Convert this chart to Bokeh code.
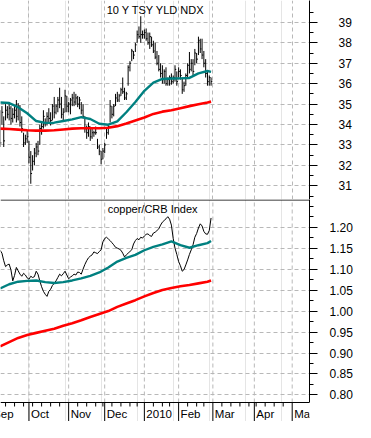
from bokeh.plotting import figure
from bokeh.layouts import column
from bokeh.models import (FixedTicker, Grid, Range1d, Label, Span,
                          ColumnDataSource, NumeralTickFormatter)
from bokeh.core.properties import value
from bokeh.embed import file_html
from bokeh.resources import INLINE

# ---------------- data (x = trading-day index, 0 = 1 Oct 2009) ----------------
month_labels = ["Sep", "Oct", "Nov", "Dec", "2010", "Feb", "Mar", "Apr", "Ma"]
month_start = [-21, 0, 22, 42, 64, 83, 102, 125, 146]
week_start = [-17, -13, -8, -3, 2, 7, 12, 17, 27, 32, 37, 41, 46, 51, 56, 60,
              69, 74, 78, 88, 93, 97, 107, 112, 117, 122, 126, 131, 136, 141]

days = list(range(-16, 102))

tsy_high = [34.7, 34.9, 34.4, 35.0, 34.9, 35.05, 34.9, 34.8, 34.9, 35.2, 35.05, 34.95, 34.4, 33.6, 33.5, 33.7,
            33.2, 32.7, 32.5, 32.85, 33.1, 33.2, 34.0, 34.1, 34.7, 34.3,
            34.6, 34.8, 34.6, 35.0, 35.35, 35.0, 35.35, 35.8, 35.35, 34.8,
            35.7, 35.4, 35.1, 35.3, 35.5, 35.6, 35.5, 35.4, 35.35, 35.1,
            35.0, 34.4, 33.95, 34.1, 33.9, 33.8, 33.7, 33.9, 33.3, 33.0,
            32.7, 32.85, 33.1, 33.8, 34.0, 35.2, 34.9, 35.0, 35.5, 35.6,
            35.5, 35.8, 36.3, 35.8, 35.6, 36.9, 37.1, 37.7, 37.6, 38.0,
            38.6, 38.8, 39.3, 38.6, 38.65, 38.7, 38.5, 38.5, 38.3, 38.1,
            38.0, 37.6, 37.4, 37.0, 36.9, 36.7, 36.8, 36.3, 36.4, 36.5,
            36.4, 36.9, 36.6, 36.8, 36.7, 36.3, 36.1, 36.5, 37.0, 37.55,
            37.2, 37.2, 37.7, 37.5, 38.3, 38.2, 38.2, 37.6, 37.2, 36.6,
            36.4, 36.3]
tsy_low = [32.9, 34.0, 32.9, 34.2, 34.3, 34.2, 34.0, 34.1, 34.3, 34.1, 34.2, 33.9, 33.6, 32.9, 33.0, 33.1,
           32.1, 31.1, 31.75, 32.0, 32.4, 32.5, 33.0, 33.5, 33.8, 33.9,
           33.95, 34.1, 33.95, 34.2, 34.3, 34.5, 34.6, 34.8, 34.3, 34.2,
           34.6, 34.6, 34.6, 34.5, 34.9, 34.9, 34.95, 34.85, 34.75, 34.5,
           34.3, 33.6, 33.3, 33.4, 33.2, 33.3, 33.4, 33.5, 32.8, 32.5,
           32.05, 32.3, 32.6, 33.3, 33.5, 34.1, 34.3, 34.4, 34.9, 35.1,
           35.1, 35.4, 35.5, 35.2, 35.2, 35.9, 36.6, 37.1, 37.2, 37.55,
           38.0, 38.2, 38.0, 38.2, 38.2, 38.1, 37.9, 37.7, 37.8, 37.5,
           37.2, 36.9, 36.6, 36.3, 36.0, 36.0, 35.9, 35.9, 35.9, 35.95,
           36.0, 36.1, 35.9, 36.3, 36.2, 35.5, 35.6, 35.9, 36.3, 36.5,
           36.6, 36.4, 36.9, 37.0, 37.4, 37.5, 37.2, 36.8, 36.3, 35.9,
           35.9, 35.9]
tsy_close = [33.1, 34.6, 33.2, 34.7, 34.5, 34.8, 34.3, 34.5, 34.7, 34.4, 34.9, 34.1, 33.8, 33.1, 33.3, 33.4,
             32.4, 31.6, 32.2, 32.6, 32.9, 32.7, 33.8, 33.9, 34.4, 34.1,
             34.4, 34.3, 34.2, 34.9, 34.6, 34.9, 35.2, 35.0, 34.5, 34.6,
             35.4, 34.9, 35.0, 35.2, 35.3, 35.1, 35.3, 35.0, 35.2, 34.7,
             34.4, 33.8, 33.6, 33.9, 33.4, 33.6, 33.6, 33.6, 32.9, 32.7,
             32.3, 32.7, 33.0, 33.6, 33.9, 34.9, 34.5, 34.9, 35.3, 35.2,
             35.4, 35.7, 35.6, 35.3, 35.5, 36.8, 37.0, 37.6, 37.4, 37.9,
             38.4, 38.3, 38.4, 38.4, 38.5, 38.2, 38.0, 38.3, 37.9, 37.6,
             37.3, 37.0, 36.7, 36.5, 36.2, 36.6, 36.0, 36.2, 36.3, 36.1,
             36.3, 36.7, 36.1, 36.6, 36.4, 35.7, 35.9, 36.4, 36.9, 36.7,
             37.0, 36.6, 37.5, 37.2, 38.1, 37.7, 37.4, 37.0, 36.5, 36.1,
             36.3, 36.1]

copper_crb = [1.145, 1.138, 1.120, 1.106, 1.110, 1.112, 1.098, 1.072, 1.085, 1.104, 1.096, 1.088, 1.083, 1.090, 1.086, 1.079,
              1.076, 1.083, 1.080, 1.082, 1.095, 1.088, 1.072, 1.058, 1.047, 1.040,
              1.035, 1.047, 1.052, 1.061, 1.066, 1.072, 1.080, 1.088, 1.084, 1.089,
              1.095, 1.086, 1.077, 1.081, 1.084, 1.088, 1.086, 1.093, 1.092, 1.088,
              1.100, 1.111, 1.120, 1.127, 1.131, 1.134, 1.141, 1.139, 1.137, 1.142,
              1.146, 1.165, 1.173, 1.176, 1.172, 1.168, 1.163, 1.158, 1.152, 1.150,
              1.148, 1.145, 1.138, 1.129, 1.134, 1.138, 1.142, 1.146, 1.160, 1.168,
              1.173, 1.170, 1.176, 1.174, 1.179, 1.183, 1.184, 1.180, 1.178, 1.186,
              1.188, 1.192, 1.196, 1.205, 1.212, 1.216, 1.220, 1.225, 1.219, 1.205,
              1.173, 1.150, 1.135, 1.118, 1.108, 1.095, 1.099, 1.110, 1.122, 1.135,
              1.146, 1.158, 1.176, 1.185, 1.198, 1.208, 1.203, 1.190, 1.184, 1.183,
              1.192, 1.222]

ma_days = [-16, -11, -6, -1, 4, 9, 14, 19, 24, 29, 34, 39, 44, 49, 54, 59, 64, 69, 74, 79, 84, 89, 94, 99, 101]
tsy_ma50 = [35.08, 35.05, 34.85, 34.55, 34.17, 34.08, 34.09, 34.17, 34.25, 34.36, 34.27, 34.04, 33.99,
            34.15, 34.6, 35.1, 35.65, 36.05, 36.23, 36.25, 36.26, 36.28, 36.5, 36.62, 36.58]
tsy_ma200 = [33.8, 33.78, 33.75, 33.72, 33.7, 33.7, 33.72, 33.76, 33.8, 33.82, 33.82, 33.82, 33.84,
             33.92, 34.05, 34.2, 34.34, 34.52, 34.63, 34.7, 34.8, 34.9, 34.99, 35.08, 35.12]
cu_ma50 = [1.054, 1.064, 1.070, 1.072, 1.073, 1.069, 1.067, 1.069, 1.073, 1.078, 1.084, 1.092, 1.104,
           1.118, 1.127, 1.134, 1.145, 1.153, 1.159, 1.166, 1.157, 1.151, 1.157, 1.162, 1.167]
cu_ma200 = [0.916, 0.926, 0.936, 0.943, 0.948, 0.953, 0.958, 0.965, 0.971, 0.978, 0.986, 0.993, 1.000,
            1.010, 1.018, 1.026, 1.035, 1.043, 1.050, 1.055, 1.059, 1.062, 1.066, 1.070, 1.073]

tsy_ticks = [31, 32, 33, 34, 35, 36, 37, 38, 39]
cu_ticks = [0.80, 0.85, 0.90, 0.95, 1.00, 1.05, 1.10, 1.15, 1.20]

# ---------------- styling / layout ----------------
FONT = "Liberation Sans"
FW = 309
H1, H2 = 199, 203          # plotting heights of the two panels
AX_H = 19                  # date-axis strip below the lower panel
X_RANGE = (-15.8, 155.6)
Y1 = (30.33, 40.07)
Y2 = (0.782, 1.266)
TEAL = "#008080"
RED = "#ff0000"
GRID = "#b8b8b8"

xr = Range1d(*X_RANGE)
u2 = (Y2[1] - Y2[0]) / H2          # data units per pixel in lower panel
Y2_LOW = Y2[0] - AX_H * u2


def style_right_axis(ax, ticks, minor, standoff, fmt):
    ax.ticker = FixedTicker(ticks=ticks, minor_ticks=minor)
    ax.formatter = NumeralTickFormatter(format=fmt)
    ax.axis_line_color = "black"
    ax.major_tick_in = 0
    ax.major_tick_out = 8
    ax.minor_tick_in = 0
    ax.minor_tick_out = 4
    ax.major_tick_line_color = "black"
    ax.minor_tick_line_color = "black"
    ax.major_label_standoff = standoff
    ax.major_label_text_font = FONT
    ax.major_label_text_font_size = "12px"
    ax.major_label_text_color = "black"


# ---- top panel ----
p1 = figure(frame_width=FW, frame_height=H1, x_range=xr, y_range=Range1d(*Y1),
            x_axis_location=None, y_axis_location="right",
            output_backend="svg", toolbar_location=None,
            min_border_left=0, min_border_top=0, min_border_bottom=0, min_border_right=0)
p1.outline_line_color = None
style_right_axis(p1.yaxis[0], tsy_ticks, [t - 0.5 for t in tsy_ticks] + [39.5], 21, "0")
p1.ygrid.grid_line_color = GRID
p1.ygrid.grid_line_dash = "4 3"
p1.add_layout(Grid(dimension=0, ticker=FixedTicker(ticks=month_start),
                   grid_line_color=GRID, grid_line_dash="4 3"))

bars = ColumnDataSource(dict(x=days, hi=tsy_high, lo=tsy_low, c=tsy_close,
                             xc=[d + 0.7 for d in days]))
p1.segment("x", "lo", "x", "hi", source=bars, line_color="black", line_width=1)
p1.segment("x", "c", "xc", "c", source=bars, line_color="black", line_width=1)
p1.line(ma_days, tsy_ma200, line_color=RED, line_width=2.6)
p1.line(ma_days, tsy_ma50, line_color=TEAL, line_width=2.4)

p1.add_layout(Label(x=month_start[3], x_offset=2,
                    y=Y1[1] - 9.6 / H1 * (Y1[1] - Y1[0]),
                    text="10 Y TSY YLD NDX", text_font=FONT, text_font_size="11px",
                    text_baseline="middle", text_color="black"))

# ---- bottom panel (the date strip lives inside its frame) ----
p2 = figure(frame_width=FW, frame_height=H2 + AX_H, x_range=xr, y_range=Range1d(Y2_LOW, Y2[1]),
            x_axis_location=None, y_axis_location="right",
            output_backend="svg", toolbar_location=None,
            min_border_left=0, min_border_top=0, min_border_bottom=0, min_border_right=0)
p2.outline_line_color = None
ya2 = p2.yaxis[0]
style_right_axis(ya2, cu_ticks, [t + 0.025 for t in cu_ticks] + [1.25], 12, "0.00")
ya2.bounds = (Y2[0], Y2[1])
p2.ygrid.grid_line_color = GRID
p2.ygrid.grid_line_dash = "4 3"

# vertical month grid, only over the plotting area
n_m = len(month_start)
p2.segment(x0=month_start, y0=[Y2[0]] * n_m, x1=month_start, y1=[Y2[1]] * n_m,
           line_color=GRID, line_dash="4 3", line_width=1)

p2.line(days, copper_crb, line_color="black", line_width=1)
p2.line(ma_days, cu_ma200, line_color=RED, line_width=2.6)
p2.line(ma_days, cu_ma50, line_color=TEAL, line_width=2.4)

# separator line between panels and the date axis line
p2.add_layout(Span(location=Y2[1] - 0.5 * u2, dimension="width", line_color="black", line_width=1))
p2.add_layout(Span(location=Y2[0], dimension="width", line_color="black", line_width=1))

# date axis ticks: long at month starts, short at week starts
p2.segment(x0=month_start, y0=[Y2[0]] * n_m, x1=month_start, y1=[Y2_LOW] * n_m,
           line_color="black", line_width=1)
n_w = len(week_start)
p2.segment(x0=week_start, y0=[Y2[0]] * n_w, x1=week_start, y1=[Y2[0] - 4 * u2] * n_w,
           line_color="black", line_width=1)

lab_src = ColumnDataSource(dict(x=month_start, y=[Y2[0] - 11.5 * u2] * n_m, text=month_labels))
p2.text(x="x", y="y", text="text", source=lab_src, x_offset=2,
        text_font=value(FONT), text_font_size=value("11.5px"), text_baseline="middle",
        text_align="left", text_color="black")

p2.add_layout(Label(x=month_start[3], x_offset=3,
                    y=Y2[1] - 9.6 * u2,
                    text="copper/CRB Index", text_font=FONT, text_font_size="11px",
                    text_baseline="middle", text_color="black"))

layout = column(p1, p2, spacing=0)
open("out.html", "w").write(file_html(layout, INLINE))
